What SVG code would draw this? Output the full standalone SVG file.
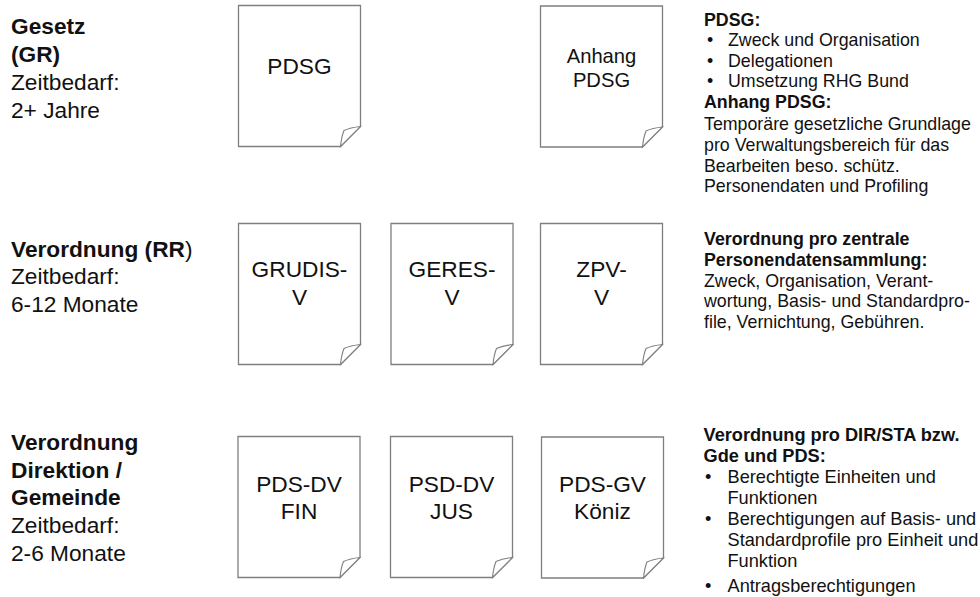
<svg xmlns="http://www.w3.org/2000/svg" width="980" height="597" viewBox="0 0 980 597">
<style>
  text { font-family: "Liberation Sans", Arial, sans-serif; fill: #111; }
  .lbl { font-size: 22.7px; }
  .b { font-weight: bold; }
  .doc { fill: #fff; stroke: #7f7f7f; stroke-width: 1.3; }
  .curl { fill: #fff; stroke: #7f7f7f; stroke-width: 1.1; }
  .dt { font-size: 22.7px; text-anchor: middle; }
  .note { font-size: 17.8px; }
  .note3 { font-size: 18.2px; }
</style>
<defs>
  <g id="page">
    <path class="doc" d="M0,0 H122 V121 L102,141 H0 Z"/>
    <path class="curl" d="M102,141 Q103,131 105.5,125 Q112,122 122,121 Z"/>
  </g>
</defs>

<!-- Row labels -->
<g id="label-gesetz">
  <text class="lbl b" x="11" y="34">Gesetz</text>
  <text class="lbl b" x="11" y="62">(GR)</text>
  <text class="lbl" x="11" y="90">Zeitbedarf:</text>
  <text class="lbl" x="11" y="117.5">2+ Jahre</text>
</g>
<g id="label-verordnung-rr">
  <text class="lbl" x="11" y="256.5"><tspan class="b">Verordnung (RR</tspan>)</text>
  <text class="lbl" x="11" y="284">Zeitbedarf:</text>
  <text class="lbl" x="11" y="311.5">6-12 Monate</text>
</g>
<g id="label-verordnung-dir">
  <text class="lbl b" x="11" y="450">Verordnung</text>
  <text class="lbl b" x="11" y="477.7">Direktion /</text>
  <text class="lbl b" x="11" y="505.3">Gemeinde</text>
  <text class="lbl" x="11" y="533.3">Zeitbedarf:</text>
  <text class="lbl" x="11" y="561">2-6 Monate</text>
</g>

<!-- Row 1 documents -->
<g id="doc-pdsg">
  <use href="#page" x="238.5" y="5.5"/>
  <text class="dt" x="299.5" y="74">PDSG</text>
</g>
<g id="doc-anhang-pdsg">
  <use href="#page" x="540.5" y="6"/>
  <text class="dt" x="601.5" y="63.3" style="font-size:20.2px">Anhang</text>
  <text class="dt" x="601.5" y="87.3" style="font-size:20.2px">PDSG</text>
</g>

<!-- Row 2 documents -->
<g id="doc-grudis-v">
  <use href="#page" x="238.5" y="223.5"/>
  <text class="dt" x="299.5" y="277">GRUDIS-</text>
  <text class="dt" x="299.5" y="305">V</text>
</g>
<g id="doc-geres-v">
  <use href="#page" x="391" y="223.5"/>
  <text class="dt" x="452" y="277">GERES-</text>
  <text class="dt" x="452" y="305">V</text>
</g>
<g id="doc-zpv-v">
  <use href="#page" x="540.5" y="223.5"/>
  <text class="dt" x="601.5" y="277">ZPV-</text>
  <text class="dt" x="601.5" y="305">V</text>
</g>

<!-- Row 3 documents -->
<g id="doc-pds-dv-fin">
  <use href="#page" x="238" y="436.5"/>
  <text class="dt" x="299" y="491.7">PDS-DV</text>
  <text class="dt" x="299" y="519">FIN</text>
</g>
<g id="doc-psd-dv-jus">
  <use href="#page" x="390.5" y="436.5"/>
  <text class="dt" x="451.5" y="491.7">PSD-DV</text>
  <text class="dt" x="451.5" y="519">JUS</text>
</g>
<g id="doc-pds-gv-koeniz">
  <use href="#page" x="541.5" y="437"/>
  <text class="dt" x="602.5" y="491.7">PDS-GV</text>
  <text class="dt" x="602.5" y="519">Köniz</text>
</g>

<!-- Notes -->
<g id="note-row1">
  <text class="note b" x="704" y="26">PDSG:</text>
  <text class="note" x="707" y="46">•</text>
  <text class="note" x="728" y="46">Zweck und Organisation</text>
  <text class="note" x="707" y="66.7">•</text>
  <text class="note" x="728" y="66.7">Delegationen</text>
  <text class="note" x="707" y="87.3">•</text>
  <text class="note" x="728" y="87.3">Umsetzung RHG Bund</text>
  <text class="note b" x="704" y="108.3">Anhang PDSG:</text>
  <text class="note" x="704" y="130">Temporäre gesetzliche Grundlage</text>
  <text class="note" x="704" y="150.7">pro Verwaltungsbereich für das</text>
  <text class="note" x="704" y="171.5">Bearbeiten beso. schütz.</text>
  <text class="note" x="704" y="192.3">Personendaten und Profiling</text>
</g>
<g id="note-row2">
  <text class="note b" x="704" y="245">Verordnung pro zentrale</text>
  <text class="note b" x="704" y="265.7">Personendatensammlung:</text>
  <text class="note" x="704" y="286.5">Zweck, Organisation, Verant-</text>
  <text class="note" x="704" y="307.2">wortung, Basis- und Standardpro-</text>
  <text class="note" x="704" y="327.8">file, Vernichtung, Gebühren.</text>
</g>
<g id="note-row3">
  <text class="note3 b" x="703.5" y="440.7">Verordnung pro DIR/STA bzw.</text>
  <text class="note3 b" x="703.5" y="461.5">Gde und PDS:</text>
  <text class="note3" x="705" y="483.3">•</text>
  <text class="note3" x="727.5" y="483.3">Berechtigte Einheiten und</text>
  <text class="note3" x="727.5" y="504">Funktionen</text>
  <text class="note3" x="705" y="525">•</text>
  <text class="note3" x="727.5" y="525">Berechtigungen auf Basis- und</text>
  <text class="note3" x="727.5" y="545.7">Standardprofile pro Einheit und</text>
  <text class="note3" x="727.5" y="566.5">Funktion</text>
  <text class="note3" x="705" y="592.3">•</text>
  <text class="note3" x="727.5" y="592.3">Antragsberechtigungen</text>
</g>

<g id="connectors"/>
</svg>
